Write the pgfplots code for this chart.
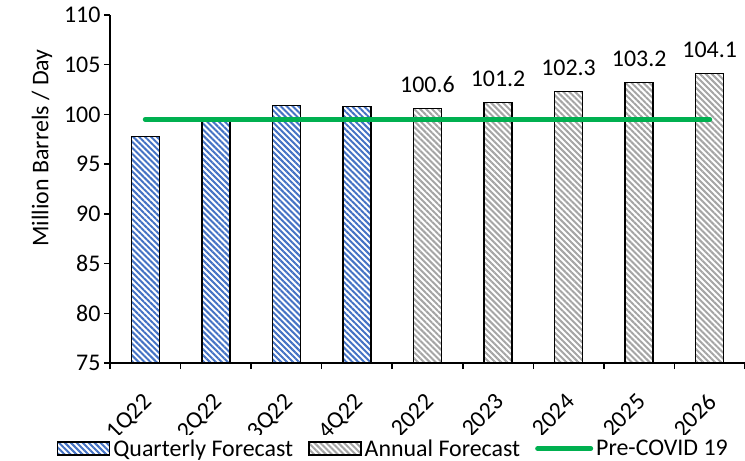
\documentclass[border=0pt]{standalone}
\usepackage{pgfplots}
\pgfplotsset{compat=1.18}
\usetikzlibrary{patterns.meta}
\usepackage{fontspec}
\setmainfont{Carlito}
\definecolor{qblue}{RGB}{68,114,196}
\definecolor{agrey}{RGB}{165,165,165}
\definecolor{cgreen}{RGB}{0,176,80}
\newcommand{\cf}{\fontsize{24}{28}\selectfont}
\pgfplotsset{
  barlegend/.style={legend image code/.code={\draw[##1, line width=1.5bp] (0bp,-6.5bp) rectangle (52bp,6.5bp);}},
  linelegend/.style={legend image code/.code={\draw[##1] (2bp,0bp) -- (55bp,0bp);}},
}
\begin{document}
\begin{tikzpicture}[font=\cf]
\path[use as bounding box] (-110bp,-98bp) rectangle (635bp,363bp);
\begin{axis}[
 at={(0,0)}, anchor=south west,
 scale only axis, width=635bp, height=348bp,
 xmin=-0.5, xmax=8.5, ymin=75, ymax=110,
 axis x line*=bottom, axis y line*=left,
 axis line style={line width=1.5bp, black, -},
 tick align=outside,
 xtick={0,...,8},
 xticklabels={1Q22,2Q22,3Q22,4Q22,2022,2023,2024,2025,2026},
 minor xtick={-0.5,0.5,...,8.5},
 major x tick style={draw=none},
 minor x tick style={line width=1.5bp, black},
 minor tick length=6bp,
 ytick={75,80,...,110},
 y tick style={line width=1.5bp, black},
 major tick length=6bp,
 /pgf/number format/assume math mode=true,
 xticklabel style={rotate=45, anchor=north east, xshift=-15.5bp, yshift=-10.5bp, font=\cf},
 yticklabel style={font=\cf},
 ylabel={Million Barrels / Day},
 every axis y label/.style={at={(axis description cs:-0.107,0.618)}, rotate=90, anchor=center, font=\cf},
 legend style={at={(0.447,-0.246)}, anchor=center, draw=none, legend columns=-1, font=\cf,
   nodes={inner sep=3bp},
   /tikz/every even column/.append style={column sep=12bp}},
 legend cell align=left,
 clip=true,
]
\addplot[ybar, bar width=28bp, bar shift=0pt, draw=black, line width=1.5bp,
  pattern={Lines[angle=-45,distance=4.2bp,line width=2bp]}, pattern color=qblue, barlegend]
  coordinates {(0,97.8) (1,99.4) (2,100.9) (3,100.8)};
\addlegendentry{Quarterly Forecast}
\addplot[ybar, bar width=28bp, bar shift=0pt, draw=black, line width=1.5bp,
  pattern={Lines[angle=-45,distance=4.2bp,line width=2bp]}, pattern color=agrey,
  nodes near coords, point meta=y,
  nodes near coords style={/pgf/number format/.cd, fixed, precision=1, fixed zerofill, /tikz/.cd, anchor=south, yshift=12bp, font=\cf, text=black},
  barlegend]
  coordinates {(4,100.6) (5,101.2) (6,102.3) (7,103.2) (8,104.1)};
\addlegendentry{Annual Forecast}
\addplot[cgreen, line width=5bp, line cap=round, mark=none, linelegend]
  coordinates {(0,99.5) (8,99.5)};
\addlegendentry{Pre-COVID 19}
\end{axis}
\end{tikzpicture}
\end{document}
